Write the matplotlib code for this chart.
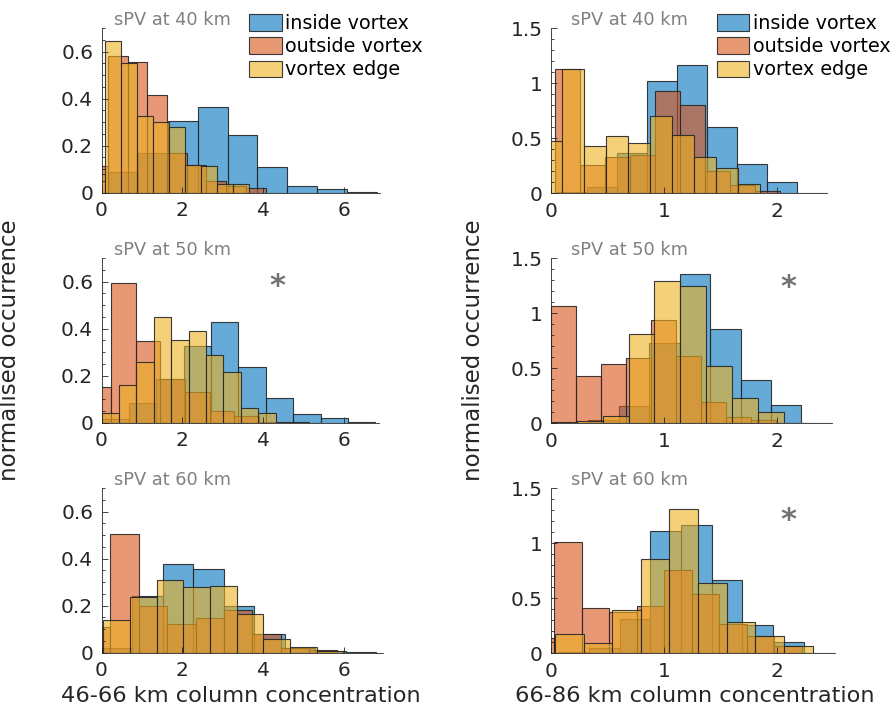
import matplotlib.pyplot as plt
import numpy as np
from matplotlib.ticker import FormatStrFormatter, MultipleLocator

# series names and MATLAB default colours
series = ['inside vortex', 'outside vortex', 'vortex edge']
colors = [(0.0, 0.447, 0.741), (0.85, 0.325, 0.098), (0.929, 0.694, 0.125)]
alt_titles = ['sPV at 40 km', 'sPV at 50 km', 'sPV at 60 km']
xlabels = ['46-66 km column concentration', '66-86 km column concentration']

# histogram bins: first edge, bin width, normalised heights
# order in each list: inside, outside, edge

# 46-66 km, sPV at 40 km
lo40_start = [0.165, -0.33, -0.31]
lo40_width = [0.739, 0.488, 0.397]
lo40_inside = [0.09, 0.17, 0.306, 0.366, 0.245, 0.11, 0.028, 0.014, 0.004]
lo40_outside = [0.113, 0.58, 0.557, 0.415, 0.167, 0.12, 0.05, 0.03, 0.018]
lo40_edge = [0.08, 0.647, 0.55, 0.328, 0.302, 0.278, 0.118, 0.115, 0.035, 0.035]

# 46-66 km, sPV at 50 km
lo50_start = [0.0, -0.38, 0.0]
lo50_width = [0.678, 0.612, 0.431]
lo50_inside = [0.014, 0.082, 0.184, 0.326, 0.43, 0.238, 0.104, 0.035, 0.018, 0.004]
lo50_outside = [0.15, 0.593, 0.346, 0.184, 0.132, 0.05, 0.03, 0.005, 0.003]
lo50_edge = [0.043, 0.159, 0.26, 0.45, 0.35, 0.39, 0.29, 0.217, 0.061, 0.04]

# 46-66 km, sPV at 60 km
lo60_start = [0.0, -0.48, 0.041]
lo60_width = [0.755, 0.702, 0.661]
lo60_inside = [0.02, 0.24, 0.376, 0.356, 0.2, 0.08, 0.02, 0.008, 0.004]
lo60_outside = [0.108, 0.505, 0.2, 0.122, 0.149, 0.18, 0.08, 0.018, 0.011]
lo60_edge = [0.139, 0.238, 0.308, 0.278, 0.282, 0.165, 0.057, 0.026, 0.008]

# 66-86 km, sPV at 40 km
hi40_start = [0.059, 0.034, -0.097]
hi40_width = [0.264, 0.2215, 0.194]
hi40_inside = [0.015, 0.06, 0.37, 1.02, 1.17, 0.606, 0.27, 0.106, 0.005]
hi40_outside = [1.13, 0.26, 0.33, 0.35, 0.93, 0.80, 0.2, 0.08, 0.024]
hi40_edge = [0.48, 1.13, 0.433, 0.524, 0.46, 0.70, 0.53, 0.333, 0.227, 0.082]

# 66-86 km, sPV at 50 km
hi50_start = [0.065, 0.0, 0.0]
hi50_width = [0.2685, 0.2206, 0.229]
hi50_inside = [0.005, 0.03, 0.158, 0.727, 1.36, 0.86, 0.39, 0.17, 0.005]
hi50_outside = [1.067, 0.43, 0.536, 0.59, 0.94, 0.615, 0.19, 0.06, 0.027]
hi50_edge = [0.012, 0.024, 0.067, 0.81, 1.29, 1.25, 0.524, 0.233, 0.1, 0.005]

# 66-86 km, sPV at 60 km
hi60_start = [0.068, -0.213, 0.038]
hi60_width = [0.2706, 0.243, 0.2526]
hi60_inside = [0.01, 0.05, 0.31, 1.115, 1.17, 0.667, 0.258, 0.1, 0.005]
hi60_outside = [0.14, 1.01, 0.415, 0.38, 0.43, 0.76, 0.536, 0.264, 0.16, 0.067]
hi60_edge = [0.176, 0.09, 0.394, 0.855, 1.31, 0.642, 0.288, 0.158, 0.07]

left_xmax = [6.89, 6.88, 6.97]
right_xmax = [2.44, 2.48, 2.51]

panels = [
    [(lo40_start, lo40_width, [lo40_inside, lo40_outside, lo40_edge]),
     (hi40_start, hi40_width, [hi40_inside, hi40_outside, hi40_edge])],
    [(lo50_start, lo50_width, [lo50_inside, lo50_outside, lo50_edge]),
     (hi50_start, hi50_width, [hi50_inside, hi50_outside, hi50_edge])],
    [(lo60_start, lo60_width, [lo60_inside, lo60_outside, lo60_edge]),
     (hi60_start, hi60_width, [hi60_inside, hi60_outside, hi60_edge])],
]
star = [[False, False], [True, True], [False, True]]

W, H = 893, 708
fig = plt.figure(figsize=(W / 100, H / 100), dpi=100)
plt.rcParams['font.family'] = 'DejaVu Sans'


def px_axes(x0, y_bottom, w, h):
    return fig.add_axes([x0 / W, 1 - y_bottom / H, w / W, h / H])


def draw_hist(ax, starts, widths, heights):
    handles = []
    for s, w, h, c in zip(starts, widths, heights, colors):
        edges = s + w * np.arange(len(h) + 1)
        b = ax.bar(edges[:-1], h, width=w, align='edge',
                   facecolor=c + (0.6,), edgecolor=(0.15, 0.15, 0.15, 0.9),
                   linewidth=0.8)
        handles.append(b)
    return handles


# column settings: origin x (px), px per unit, ylim, y ticks
cols = [
    dict(x0=101.5, sx=40.4, ytop=0.7, ysc=235, xmax=left_xmax,
         bottoms=[192.7, 422.7, 652.7], xt=[0, 2, 4, 6], yt=[0, 0.2, 0.4, 0.6], ym=0.05),
    dict(x0=550.7, sx=113.3, ytop=1.5, ysc=110, xmax=right_xmax,
         bottoms=[193.3, 423.3, 653.3], xt=[0, 1, 2], yt=[0, 0.5, 1, 1.5], ym=0.1),
]
gray = (0.15, 0.15, 0.15)

for r in range(3):
    for c in range(2):
        cfg = cols[c]
        xm = cfg['xmax'][r]
        ax = px_axes(cfg['x0'], cfg['bottoms'][r], xm * cfg['sx'], cfg['ytop'] * cfg['ysc'])
        starts, widths, heights = panels[r][c]
        handles = draw_hist(ax, starts, widths, heights)
        ax.set_xlim(0, xm)
        ax.set_ylim(0, cfg['ytop'])
        ax.set_xticks(cfg['xt'])
        ax.set_yticks(cfg['yt'])
        ax.yaxis.set_minor_locator(MultipleLocator(cfg['ym']))
        ax.xaxis.set_major_formatter(FormatStrFormatter('%g'))
        ax.yaxis.set_major_formatter(FormatStrFormatter('%g'))
        for side in ['top', 'right']:
            ax.spines[side].set_visible(False)
        for side in ['left', 'bottom']:
            ax.spines[side].set_color(gray)
            ax.spines[side].set_linewidth(0.6)
        ax.tick_params(which='both', direction='in', colors=gray, labelsize=14.5,
                       width=0.6)
        ax.tick_params(which='major', length=4)
        ax.tick_params(which='minor', length=2)
        ax.tick_params(axis='x', pad=6)
        ax.tick_params(axis='y', pad=6)
        # altitude note above each panel
        tx = 114 if c == 0 else 570.7
        ax.text(tx / W, 1 - (cfg['bottoms'][r] - cfg['ytop'] * cfg['ysc'] - 3) / H,
                alt_titles[r], transform=fig.transFigure, fontsize=12.8,
                color=(0.5, 0.5, 0.5), va='baseline', ha='left')
        if star[r][c]:
            sx = 277 if c == 0 else 788
            sy = cfg['bottoms'][r] - 136 if r == 1 else cfg['bottoms'][r] - 133
            ax.text(sx / W, 1 - sy / H, '*', transform=fig.transFigure,
                    fontsize=22, color=(0.45, 0.45, 0.45), ha='center', va='center',
                    fontweight='bold')
        if r == 0:
            lx = 249 if c == 0 else 716.7
            ax.legend(handles, series, loc='upper left', frameon=False,
                      bbox_to_anchor=(lx / W, 1 - 14 / H), bbox_transform=fig.transFigure,
                      fontsize=13.8, handlelength=1.7, handleheight=0.95,
                      handletextpad=0.2, labelspacing=0.22, borderpad=0, borderaxespad=0)
        if r == 1:
            ax.set_ylabel('normalised occurrence', fontsize=16.5, color=gray)
            ax.yaxis.set_label_coords((21.5 if c == 0 else 485) / W, 1 - 350 / H,
                                      transform=fig.transFigure)
        if r == 2:
            ax.set_xlabel(xlabels[c], fontsize=16.2, color=gray)
            ax.xaxis.set_label_coords((241 if c == 0 else 695) / W, 1 - 701.5 / H,
                                      transform=fig.transFigure)
            ax.xaxis.label.set_va('baseline')

fig.savefig('out.png', dpi=100)
